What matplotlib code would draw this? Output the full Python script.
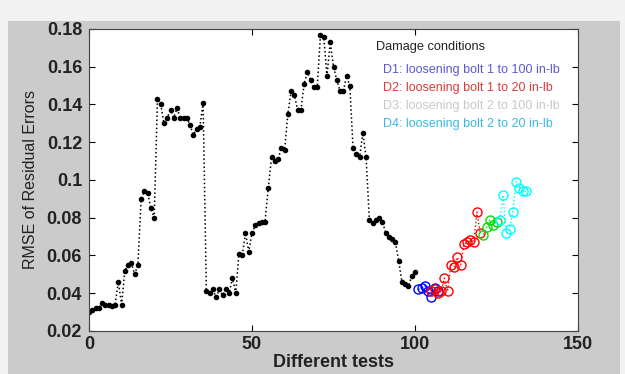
import matplotlib
matplotlib.use("Agg")
import matplotlib.pyplot as plt
from matplotlib.patches import Rectangle

plt.rcParams["font.family"] = ["Liberation Sans", "DejaVu Sans"]

# baseline (healthy) tests, one value per test 0..100
base_x = list(range(0, 101))
base_y = [
    0.030, 0.031, 0.032, 0.032, 0.035, 0.034, 0.034, 0.033, 0.034, 0.046,
    0.034, 0.052, 0.055, 0.056, 0.050, 0.055, 0.090, 0.094, 0.093, 0.085,
    0.080, 0.143, 0.140, 0.130, 0.133, 0.137, 0.133, 0.138, 0.133, 0.133,
    0.133, 0.129, 0.124, 0.127, 0.128, 0.141, 0.041, 0.040, 0.042, 0.038,
    0.042, 0.039, 0.042, 0.040, 0.048, 0.040, 0.061, 0.060, 0.072, 0.062,
    0.072, 0.076, 0.077, 0.078, 0.078, 0.096, 0.112, 0.110, 0.111, 0.117,
    0.116, 0.135, 0.147, 0.145, 0.137, 0.137, 0.151, 0.157, 0.153, 0.149,
    0.149, 0.177, 0.176, 0.155, 0.173, 0.160, 0.153, 0.147, 0.147, 0.155,
    0.150, 0.117, 0.114, 0.112, 0.125, 0.112, 0.079, 0.077, 0.079, 0.080,
    0.078, 0.072, 0.070, 0.069, 0.067, 0.057, 0.046, 0.045, 0.044, 0.049,
    0.051,
]

d1_x = [101, 102, 103, 104, 105, 106, 107]
d1_y = [0.042, 0.043, 0.044, 0.041, 0.038, 0.043, 0.041]

d2_x = list(range(105, 121))
d2_y = [0.041, 0.042, 0.040, 0.041, 0.048, 0.041, 0.055, 0.054,
        0.059, 0.055, 0.066, 0.067, 0.068, 0.067, 0.083, 0.072]

d3_x = [121, 122, 123, 124, 125]
d3_y = [0.071, 0.075, 0.079, 0.076, 0.078]

d4_x = list(range(126, 135))
d4_y = [0.079, 0.092, 0.072, 0.074, 0.083, 0.099, 0.096, 0.094, 0.094]

legend_title = "Damage conditions"
legend_labels = [
    "D1: loosening bolt 1 to 100 in-lb",
    "D2: loosening bolt 1 to 20 in-lb",
    "D3: loosening bolt 2 to 100 in-lb",
    "D4: loosening bolt 2 to 20 in-lb",
]
legend_colors = ["#5a5ad0", "#e03a3a", "#c8c8c8", "#3cb8e0"]

fig = plt.figure(figsize=(6.25, 3.74), dpi=100, facecolor="#f2f2f2")
fig.patches.append(Rectangle((0.012, 0.0), 0.98, 0.945, transform=fig.transFigure,
                             facecolor="#cbcbcb", edgecolor="none", zorder=-1))
ax = fig.add_axes([0.1424, 0.115, 0.7824, 0.8075])

ax.plot(base_x, base_y, ":", color="black", lw=1.1, marker="o",
        ms=3, mfc="black", mec="black")
ax.plot(d1_x, d1_y, ":", color="blue", lw=1, marker="o", ms=6.5, mfc="none", mec="blue")
ax.plot(d2_x, d2_y, ":", color="red", lw=1, marker="o", ms=6.5, mfc="none", mec="red")
ax.plot(d3_x, d3_y, ":", color="#00e000", lw=1, marker="o", ms=6.5, mfc="none", mec="#00e000")
ax.plot(d4_x, d4_y, ":", color="cyan", lw=1, marker="o", ms=6.5, mfc="none", mec="cyan")

ax.set_xlim(0, 150)
ax.set_ylim(0.02, 0.18)
ax.set_xticks([0, 50, 100, 150])
ax.set_yticks([0.02, 0.04, 0.06, 0.08, 0.1, 0.12, 0.14, 0.16, 0.18])
ax.set_yticklabels(["0.02", "0.04", "0.06", "0.08", "0.1", "0.12", "0.14", "0.16", "0.18"])
ax.tick_params(direction="in", top=True, right=True, length=4, labelsize=13)
ax.tick_params(axis="y", pad=5)
for lab in ax.get_xticklabels() + ax.get_yticklabels():
    lab.set_fontweight("bold")
    lab.set_color("#222222")
for s in ax.spines.values():
    s.set_color("#444444")

ax.set_xlabel("Different tests", fontsize=13, fontweight="bold", color="#222222", labelpad=1)
ax.set_ylabel("RMSE of Residual Errors", fontsize=11.5, color="#222222", labelpad=6)

ax.text(0.587, 0.94, legend_title, transform=ax.transAxes, fontsize=9.2,
        color="#222222", va="center")
legend_y = [0.864, 0.805, 0.745, 0.685]
for lab, c, ty in zip(legend_labels, legend_colors, legend_y):
    ax.text(0.602, ty, lab, transform=ax.transAxes, fontsize=9, color=c, va="center")

fig.savefig("out.png", dpi=100, facecolor=fig.get_facecolor())
